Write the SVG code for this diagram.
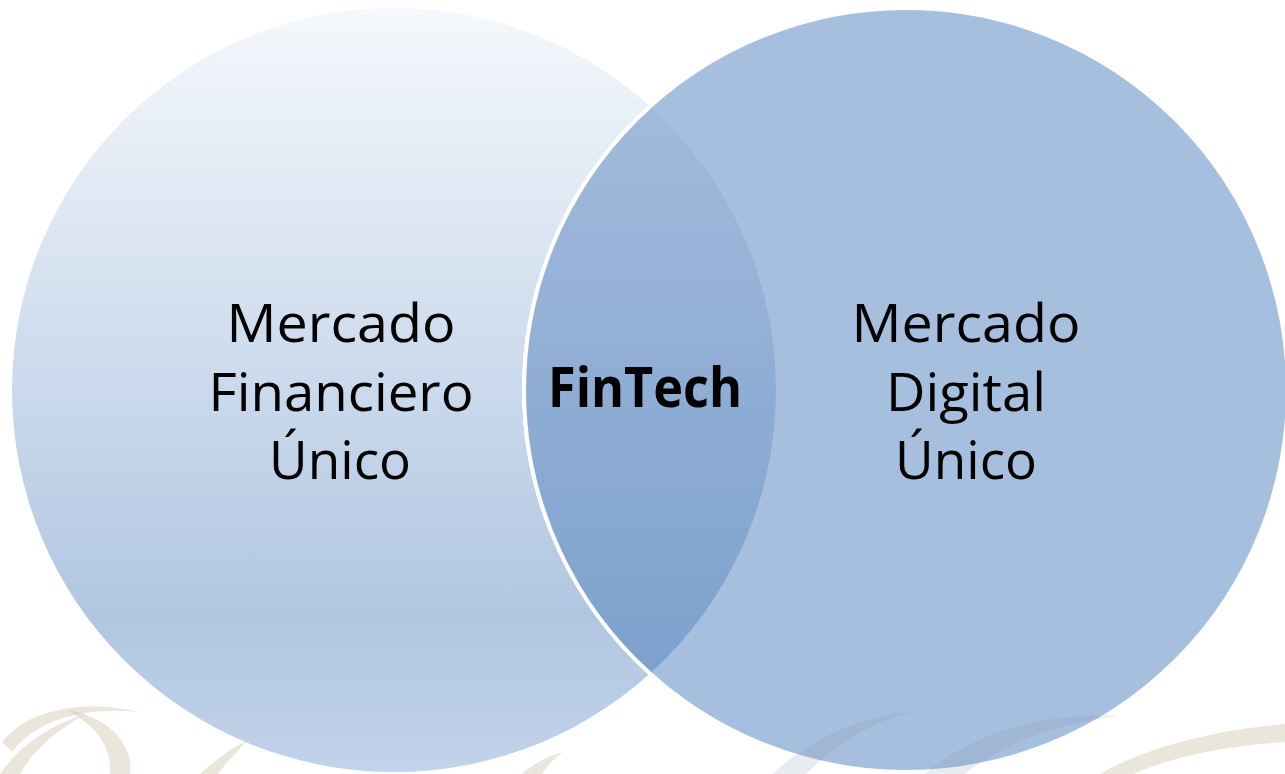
<svg xmlns="http://www.w3.org/2000/svg" width="1285" height="774" viewBox="0 0 1285 774">
<defs>
<linearGradient id="gLeft" x1="0" y1="0" x2="0" y2="1">
<stop offset="0" stop-color="#f5f8fc"/>
<stop offset="0.5" stop-color="#cad9ec"/>
<stop offset="0.8" stop-color="#b1c6e1"/>
<stop offset="1" stop-color="#c2d3ea"/>
</linearGradient>
<linearGradient id="gLens" gradientUnits="userSpaceOnUse" x1="0" y1="106" x2="0" y2="674">
<stop offset="0" stop-color="#a2badb"/>
<stop offset="1" stop-color="#7ca1cd"/>
</linearGradient>
<style>
.lbl{font-family:"Open Sans","Liberation Sans",sans-serif;font-size:53px;fill:#000;text-anchor:middle}
.bold{font-weight:bold;font-size:56px}
.wm{fill:#b8ad88;opacity:0.3}
.wmb{fill:#7d90a6;opacity:0.18}
</style>
</defs>
<rect width="1285" height="774" fill="#ffffff"/>
<g id="left-circle">
<circle cx="394" cy="390" r="382" fill="url(#gLeft)"/>
<text class="lbl" x="341" y="342" textLength="229" lengthAdjust="spacingAndGlyphs">Mercado</text>
<text class="lbl" x="341" y="411" textLength="265" lengthAdjust="spacingAndGlyphs">Financiero</text>
<text class="lbl" x="340" y="479" textLength="142" lengthAdjust="spacingAndGlyphs">Único</text>
</g>
<g id="right-circle">
<circle cx="906" cy="390" r="382" fill="#a7bfdf" stroke="#ffffff" stroke-width="4"/>
<text class="lbl" x="966" y="342" textLength="229" lengthAdjust="spacingAndGlyphs">Mercado</text>
<text class="lbl" x="966" y="411" textLength="160" lengthAdjust="spacingAndGlyphs">Digital</text>
<text class="lbl" x="966" y="479" textLength="142" lengthAdjust="spacingAndGlyphs">Único</text>
</g>
<g id="fintech">
<path d="M650,106.5 A382,382 0 0,1 650,673.5 A382,382 0 0,1 650,106.5 Z" fill="url(#gLens)"/>
<path d="M650,673.5 A382,382 0 0,1 650,106.5" fill="none" stroke="#ffffff" stroke-width="4"/>
<text class="lbl bold" x="645" y="407" textLength="194" lengthAdjust="spacingAndGlyphs">FinTech</text>
</g>
<g id="watermark">
<path class="wm" d="M2,742 C30,706 90,700 140,712 C90,707 40,716 12,752 Z"/>
<path class="wm" d="M68,710 C110,718 134,745 130,774 L110,774 C112,748 98,728 68,710 Z"/>
<path class="wm" d="M0,774 C20,745 50,725 86,714 C56,730 32,752 20,774 Z"/>
<path class="wm" d="M200,774 C215,760 232,748 248,740 C234,755 224,765 218,774 Z"/>
<path class="wm" d="M522,774 C532,765 546,757 562,752 C552,762 545,768 542,774 Z"/>
<path class="wmb" d="M772,774 C810,740 860,715 912,712 C868,722 830,750 806,774 Z"/>
<path class="wmb" d="M925,774 C970,735 1040,712 1118,716 C1060,722 1000,745 965,774 Z"/>
<path class="wm" d="M1100,774 C1150,745 1220,730 1285,724 L1285,742 C1220,746 1162,760 1134,774 Z"/>
</g>
</svg>
